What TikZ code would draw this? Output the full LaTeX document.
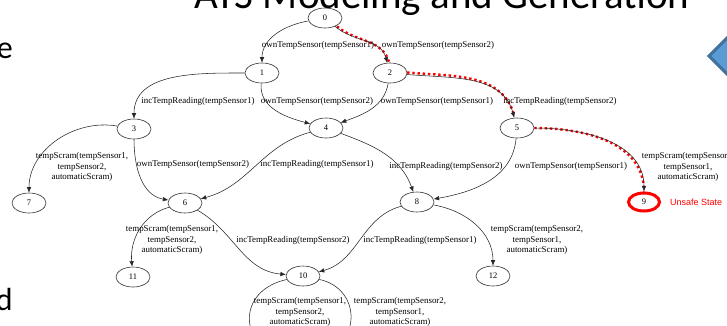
\documentclass[tikz,border=0pt]{standalone}
\usepackage{fontspec}
\setmainfont{Liberation Serif}
\newfontfamily\slidefont{Carlito}
\newfontfamily\tagfont{Liberation Sans}
\usetikzlibrary{shapes.geometric, arrows.meta, positioning, calc}
\definecolor{slideblue}{HTML}{5B9BD5}
\definecolor{slideedge}{HTML}{41719C}
\definecolor{pathred}{HTML}{FF0000}

\tikzset{
  state/.style={ellipse, draw=black!80, line width=0.6pt, minimum width=34pt,
    minimum height=20pt, inner sep=0pt, font=\fontsize{8.5}{9}\selectfont},
  unsafe/.style={state, draw=pathred, line width=3pt, minimum width=31pt, minimum height=18pt},
  trans/.style={draw=black!85, line width=0.55pt, -{Latex[length=5.5pt,width=4.5pt]}},
  witness/.style={draw=pathred, line width=2.4pt, dash pattern=on 2.4pt off 2.8pt},
  act/.style={font=\fontsize{8.9}{10.5}\selectfont, align=center, inner sep=0pt}
}

\begin{document}
\begin{tikzpicture}[x=1pt, y=-1pt]
  \useasboundingbox (0,0) rectangle (727,325);
  \clip (0,0) rectangle (727,325);

  % what is left of the slide around the graph
  \node[font=\slidefont\fontsize{41}{41}\selectfont, anchor=base, inner sep=0pt] (title) at (442,8) {ATS Modeling and Generation};
  \node[font=\slidefont\fontsize{32}{32}\selectfont, anchor=base east, inner sep=0pt] (bodye) at (13,58) {e};
  \node[font=\slidefont\fontsize{32}{32}\selectfont, anchor=base east, inner sep=0pt] (bodyd) at (13,310) {d};
  \filldraw[fill=slideblue, draw=slideedge, line width=3pt] (709,56) -- (754,11) -- (799,56) -- (754,101) -- cycle;

  % states
  \node[state] (n0) at (325,18) {0};
  \node[state] (n1) at (262,73) {1};
  \node[state] (n2) at (390,73) {2};
  \node[state] (n3) at (134,129) {3};
  \node[state] (n4) at (326,128) {4};
  \node[state] (n5) at (517,128) {5};
  \node[state] (n6) at (185,203) {6};
  \node[state] (n7) at (29,203) {7};
  \node[state] (n8) at (417,202) {8};
  \node[unsafe] (n9) at (644,202) {9};
  \node[state] (n10) at (303,276) {10};
  \node[state] (n11) at (133,277) {11};
  \node[state] (n12) at (493,276) {12};
  \coordinate (n13) at (300,372);
  \node[font=\tagfont\fontsize{9}{9}\selectfont, text=pathred, anchor=west, inner sep=0pt] (unsafetag) at (670,202) {Unsafe State};

  % counterexample path 0 -> 2 -> 5 -> 9
  \draw[witness, transform canvas={xshift=2pt}] (n0) to[out=-40,in=105] (n2);
  \draw[witness, transform canvas={yshift=2pt}] (n2) to[out=-5,in=105] (n5);
  \draw[witness] (n5) to[out=0,in=90] (n9);

  % transitions
  \draw[trans] (n0) to[out=190,in=90] (n1);
  \draw[trans] (n0) to[out=-40,in=105] (n2);
  \draw[trans] (n1) to[out=180,in=90] (n3);
  \draw[trans] (n1) to[out=-95,in=165] (n4);
  \draw[trans] (n2) to[out=-100,in=20] (n4);
  \draw[trans] (n2) to[out=-5,in=105] (n5);
  \draw[trans] (n3) to[out=170,in=90] (n7);
  \draw[trans] (n3) to[out=-90,in=170] (n6);
  \draw[trans] (n4) to[out=195,in=15] (n6);
  \draw[trans] (n4) to[out=-20,in=110] (n8);
  \draw[trans] (n5) to[out=-95,in=10] (n8);
  \draw[trans] (n5) to[out=0,in=90] (n9);
  \draw[trans] (n6) to[out=195,in=95] (n11);
  \draw[trans] (n6) to[out=-30,in=175] (n10);
  \draw[trans] (n8) to[out=195,in=15] (n10);
  \draw[trans] (n8) to[out=-10,in=90] (n12);
  \draw[trans] (n10) .. controls (238,290) and (233,345) .. (n13);
  \draw[trans] (n10) .. controls (360,288) and (368,345) .. (n13);

  % action labels
  \node[act] (a01) at (318,45) {ownTempSensor(tempSensor1)};
  \node[act] (a02) at (438,45) {ownTempSensor(tempSensor2)};
  \node[act] (a13) at (198,101) {incTempReading(tempSensor1)};
  \node[act] (a14) at (317,101) {ownTempSensor(tempSensor2)};
  \node[act] (a24) at (437,101) {ownTempSensor(tempSensor1)};
  \node[act] (a25) at (560,101) {incTempReading(tempSensor2)};
  \node[act] (a37) at (82,167) {tempScram(tempSensor1,\\tempSensor2,\\automaticScram)};
  \node[act] (a36) at (193,164) {ownTempSensor(tempSensor2)};
  \node[act] (a46) at (317,164) {incTempReading(tempSensor1)};
  \node[act] (a48) at (446,166) {incTempReading(tempSensor2)};
  \node[act] (a58) at (571,166) {ownTempSensor(tempSensor1)};
  \node[act] (a59) at (688,167) {tempScram(tempSensor2,\\tempSensor1,\\automaticScram)};
  \node[act] (a611) at (172,240) {tempScram(tempSensor1,\\tempSensor2,\\automaticScram)};
  \node[act] (a610) at (293,240) {incTempReading(tempSensor2)};
  \node[act] (a810) at (420,240) {incTempReading(tempSensor1)};
  \node[act] (a812) at (537,240) {tempScram(tempSensor2,\\tempSensor1,\\automaticScram)};
  \node[act] (a10l) at (300,312) {tempScram(tempSensor1,\\tempSensor2,\\automaticScram)};
  \node[act] (a10r) at (400,312) {tempScram(tempSensor2,\\tempSensor1,\\automaticScram)};
\end{tikzpicture}
\end{document}
